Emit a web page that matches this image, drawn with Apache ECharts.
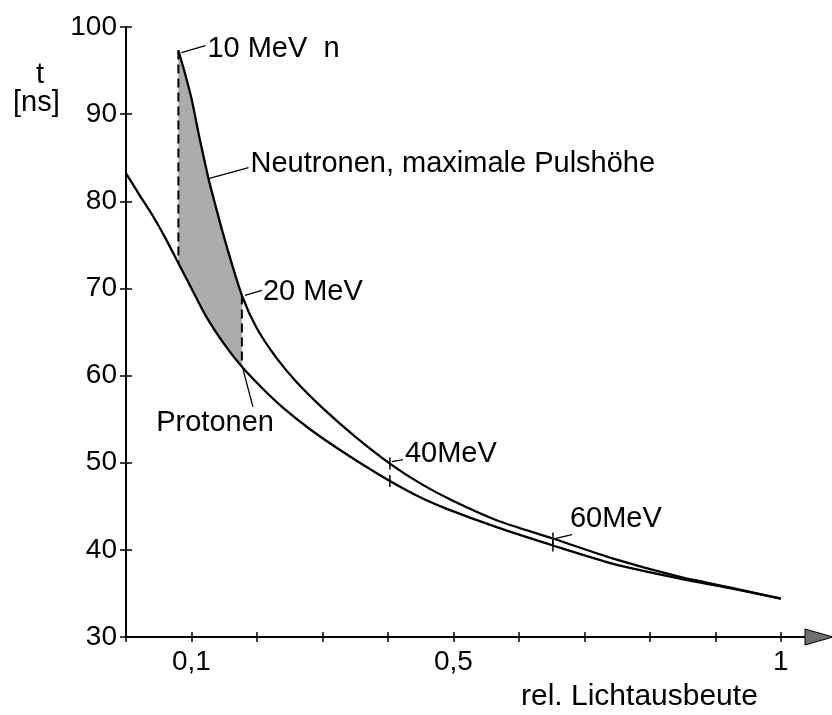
<!DOCTYPE html>
<html>
<head>
<meta charset="utf-8">
<script src="https://cdn.jsdelivr.net/npm/echarts@6/dist/echarts.min.js"></script>
<style>
html,body{margin:0;padding:0;background:#fff;}
#chart{width:832px;height:715px;}
</style>
</head>
<body>
<div id="chart"></div>
<script>
// ---- data ----
const neutronX = [0.08, 0.09, 0.10, 0.113, 0.126, 0.13, 0.15, 0.177, 0.20, 0.23, 0.26, 0.30, 0.35, 0.403, 0.45, 0.50, 0.566, 0.652, 0.744, 0.846, 0.922, 1.0];
const neutronT = [97.3, 94.7, 91.8, 87.0, 82.6, 81.4, 75.8, 69.2, 65.4, 62.0, 59.3, 56.3, 53.0, 49.9, 47.6, 45.6, 43.4, 41.3, 39.0, 36.9, 35.7, 34.4];
const protonX = [0.0, 0.02, 0.042, 0.06, 0.08, 0.10, 0.123, 0.15, 0.177, 0.21, 0.24, 0.28, 0.32, 0.357, 0.403, 0.45, 0.49, 0.566, 0.652, 0.744, 0.846, 0.922, 1.0];
const protonT = [83.2, 80.8, 78.2, 75.8, 72.9, 70.0, 66.7, 63.6, 61.0, 58.4, 56.3, 53.9, 51.8, 50.0, 47.9, 46.0, 44.7, 42.6, 40.5, 38.4, 36.7, 35.6, 34.4];
const shadeFrom = 0.08, shadeTo = 0.177;          // dashed boundaries (10 MeV, 20 MeV)
const energyLabels = ['10 MeV  n', '20 MeV', '40MeV', '60MeV'];
const energyX = [0.08, 0.177, 0.403, 0.652];
const tickMarkX = [0.403, 0.652];                  // cross marks on both curves
const curveLabelNeutron = 'Neutronen, maximale Pulshöhe';
const curveLabelNeutronX = 0.126;
const curveLabelProton = 'Protonen';
const curveLabelProtonX = 0.177;
const xLabelValues = [0.1, 0.5, 1.0];
const xLabelTexts = ['0,1', '0,5', '1'];
const yTitle = ['t', '[ns]'];
const xTitle = 'rel. Lichtausbeute';

// ---- helpers ----
function pairs(xs, ts) { return xs.map((x, i) => [x, ts[i]]); }
function valAt(xs, ts, x) { const i = xs.findIndex(v => Math.abs(v - x) < 1e-9); return ts[i]; }
const FONT = '"Liberation Sans", Arial, sans-serif';
const font = s => s + 'px ' + FONT;

const chart = echarts.init(document.getElementById('chart'), null, {renderer: 'canvas'});

const xCommon = {type: 'value', min: 0, max: 1.04, interval: 0.1, splitLine: {show: false}};
const yCommon = {type: 'value', min: 30, max: 100, interval: 10, splitLine: {show: false}};

const option = {
  animation: false,
  backgroundColor: '#fff',
  grid: {left: 126, right: 25, top: 27, bottom: 78, containLabel: false},
  xAxis: [
    Object.assign({}, xCommon, {
      axisLine: {show: true, lineStyle: {color: '#000', width: 2}},
      axisTick: {show: true, inside: false, length: 5, lineStyle: {color: '#000', width: 1.5}},
      axisLabel: {
        margin: 11, color: '#000', fontFamily: FONT, fontSize: 28,
        formatter: v => { const i = xLabelValues.findIndex(a => Math.abs(a - v) < 1e-6); return i >= 0 ? xLabelTexts[i] : ''; }
      }
    }),
    Object.assign({}, xCommon, {
      position: 'bottom',
      axisLine: {show: false},
      axisTick: {show: true, inside: true, length: 5, lineStyle: {color: '#000', width: 1.5}},
      axisLabel: {show: false}
    })
  ],
  yAxis: [
    Object.assign({}, yCommon, {
      axisLine: {show: true, lineStyle: {color: '#000', width: 2}},
      axisTick: {show: true, inside: false, length: 6, lineStyle: {color: '#000', width: 1.5}},
      axisLabel: {margin: 9, color: '#000', fontFamily: FONT, fontSize: 28}
    }),
    Object.assign({}, yCommon, {
      position: 'left',
      axisLine: {show: false},
      axisTick: {show: true, inside: true, length: 6, lineStyle: {color: '#000', width: 1.5}},
      axisLabel: {show: false}
    })
  ],
  graphic: [
    {type: 'text', left: 36, top: 60, style: {text: yTitle[0], font: font(29), fill: '#000'}},
    {type: 'text', left: 13, top: 88, style: {text: yTitle[1], font: font(29), fill: '#000'}},
    {type: 'text', left: 521, top: 682, style: {text: xTitle, font: font(30), fill: '#000'}}
  ],
  series: [
    {
      // shaded region between the curves and dashed boundaries
      type: 'custom', z: 1, silent: true,
      data: [[shadeFrom, 0]],
      renderItem: (params, api) => {
        const top = pairs(neutronX, neutronT).filter(p => p[0] >= shadeFrom - 1e-9 && p[0] <= shadeTo + 1e-9);
        const bot = pairs(protonX, protonT).filter(p => p[0] >= shadeFrom - 1e-9 && p[0] <= shadeTo + 1e-9).reverse();
        const pts = top.concat(bot).map(p => api.coord(p));
        return {type: 'polygon', shape: {points: pts, smooth: 0}, style: {fill: '#ababab', stroke: null}};
      }
    },
    {
      type: 'line', name: 'Neutronen', z: 3, data: pairs(neutronX, neutronT),
      showSymbol: false, symbol: 'none', smooth: 0.25,
      lineStyle: {color: '#000', width: 2.3}
    },
    {
      type: 'line', name: 'Protonen', z: 3, data: pairs(protonX, protonT),
      showSymbol: false, symbol: 'none', smooth: 0.25,
      lineStyle: {color: '#000', width: 2.3}
    },
    {
      // dashed boundaries, tick marks, leader lines and labels
      type: 'custom', z: 4, silent: true,
      data: [[0, 0]],
      renderItem: (params, api) => {
        const ch = [];
        const line = (a, b, w, dash) => ch.push({type: 'line', shape: {x1: a[0], y1: a[1], x2: b[0], y2: b[1]},
          style: {stroke: '#000', lineWidth: w, lineDash: dash || null}});
        const text = (t, x, y, sz, align) => ch.push({type: 'text', style: {text: t, x: x, y: y, font: font(sz),
          fill: '#000', align: align || 'left', verticalAlign: 'middle'}});
        // dashed verticals
        [shadeFrom, shadeTo].forEach(x => {
          const a = api.coord([x, valAt(neutronX, neutronT, x)]);
          const b = api.coord([x, valAt(protonX, protonT, x)]);
          line(a, b, 2, [9, 5]);
        });
        // cross marks at 40 and 60 MeV
        tickMarkX.forEach(x => {
          [api.coord([x, valAt(neutronX, neutronT, x)]), api.coord([x, valAt(protonX, protonT, x)])].forEach(p => {
            line([p[0], p[1] - 6], [p[0], p[1] + 6], 1.5);
          });
        });
        // energy labels on the neutron curve
        const offs = [
          {lead: [[3, 2], [27, -5]], txt: [29, -2]},
          {lead: [[3, 0], [20, -5]], txt: [21, -3]},
          {lead: [[2, -2], [13, -4]], txt: [15, -10]},
          {lead: [[2, 0], [19, -4]], txt: [17, -20]}
        ];
        energyX.forEach((x, i) => {
          const p = api.coord([x, valAt(neutronX, neutronT, x)]);
          const o = offs[i];
          line([p[0] + o.lead[0][0], p[1] + o.lead[0][1]], [p[0] + o.lead[1][0], p[1] + o.lead[1][1]], 1.3);
          text(energyLabels[i], p[0] + o.txt[0], p[1] + o.txt[1], 29);
        });
        // curve names
        const pn = api.coord([curveLabelNeutronX, valAt(neutronX, neutronT, curveLabelNeutronX)]);
        line([pn[0], pn[1]], [pn[0] + 40, pn[1] - 11], 1.3);
        text(curveLabelNeutron, pn[0] + 42, pn[1] - 15, 29);
        const pp = api.coord([curveLabelProtonX, valAt(protonX, protonT, curveLabelProtonX)]);
        line([pp[0] + 1, pp[1] + 2], [pp[0] + 11, pp[1] + 40], 1.3);
        text(curveLabelProton, pp[0] + 32, pp[1] + 56, 29, 'right');
        // axis arrow
        const e = api.coord([1.04, 30]);
        ch.push({type: 'polygon', shape: {points: [[e[0] - 2, e[1] - 8], [e[0] + 26, e[1]], [e[0] - 2, e[1] + 8]]},
          style: {fill: '#6e6e6e', stroke: '#000', lineWidth: 1}});
        return {type: 'group', children: ch};
      }
    }
  ]
};
chart.setOption(option);
</script>
</body>
</html>
